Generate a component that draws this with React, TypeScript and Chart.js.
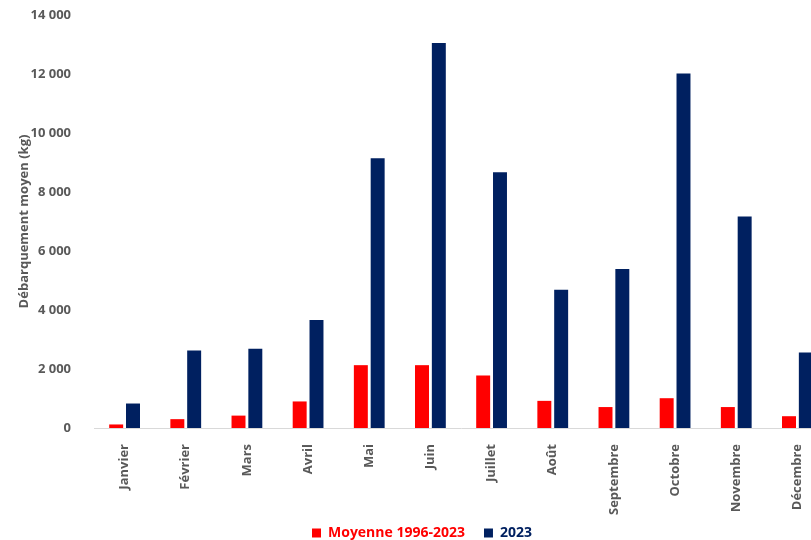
import React, { useEffect, useRef } from "react";
import { Chart, registerables } from "chart.js";

Chart.register(...registerables);

const months = ["Janvier", "Février", "Mars", "Avril", "Mai", "Juin", "Juillet", "Août", "Septembre", "Octobre", "Novembre", "Décembre"];
const moyenne = [120, 300, 420, 900, 2130, 2130, 1780, 920, 710, 1010, 710, 400];
const annee2023 = [830, 2630, 2690, 3660, 9140, 13050, 8670, 4690, 5390, 12020, 7170, 2560];
const seriesNames = ["Moyenne 1996-2023", "2023"];
const yTicks = [0, 2000, 4000, 6000, 8000, 10000, 12000, 14000];

const RED = "#FF0000";
const NAVY = "#002060";
const GRAY = "#595959";

function fmt(v: number) {
  return String(v).replace(/\B(?=(\d{3})+(?!\d))/g, " ");
}

const extendLabelArea = {
  id: "extendLabelArea",
  afterLayout(chart: any) {
    const x = chart.scales.x;
    if (x) x.bottom = x.bottom + 20;
  },
};

export default function App() {
  const ref = useRef<HTMLCanvasElement | null>(null);
  useEffect(() => {
    if (!ref.current) return;
    const font = { family: "'Open Sans'", size: 13, weight: "bold" as const };
    const legendFont = { family: "'Open Sans'", size: 14, weight: "bold" as const };
    const chart = new Chart(ref.current, {
      type: "bar",
      data: {
        labels: months,
        datasets: [
          { label: seriesNames[0], data: moyenne, backgroundColor: RED, categoryPercentage: 0.55, barPercentage: 0.83 },
          { label: seriesNames[1], data: annee2023, backgroundColor: NAVY, categoryPercentage: 0.55, barPercentage: 0.83 },
        ],
      },
      plugins: [extendLabelArea],
      options: {
        animation: false,
        responsive: false,
        maintainAspectRatio: false,
        layout: { padding: { left: 16, right: 28, top: 15, bottom: 0 } },
        plugins: {
          tooltip: { enabled: false },
          legend: {
            position: "bottom",
            labels: {
              boxWidth: 9,
              boxHeight: 9,
              padding: 19,
              font: legendFont,
              generateLabels: (c: any) =>
                c.data.datasets.map((ds: any, i: number) => ({
                  text: ds.label,
                  fillStyle: ds.backgroundColor,
                  strokeStyle: ds.backgroundColor,
                  lineWidth: 0,
                  fontColor: ds.backgroundColor,
                  hidden: false,
                  datasetIndex: i,
                })),
            },
          },
        },
        scales: {
          x: {
            grid: { display: false },
            border: { display: true, color: "#d9d9d9", width: 1 },
            ticks: { color: GRAY, font, minRotation: 90, maxRotation: 90, padding: 8, autoSkip: false },
            afterFit: (s: any) => { s.height = 79; s.paddingLeft = 0; s.paddingRight = 0; },
          },
          y: {
            min: 0,
            max: 14000,
            afterBuildTicks: (s: any) => { s.ticks = yTicks.map((v) => ({ value: v })); },
            grid: { display: false },
            border: { display: false },
            ticks: { color: GRAY, font, padding: 15, callback: (v: any) => fmt(Number(v)) },
            title: { display: true, text: "Débarquement moyen (kg)", color: GRAY, font, padding: { top: 0, bottom: 0 } },
            afterFit: (s: any) => { s.width = 78; s.paddingTop = 0; s.paddingBottom = 0; },
          },
        },
      },
    });
    return () => chart.destroy();
  }, []);
  return (
    <div style={{ position: "fixed", left: 0, top: 0, width: 811, height: 540, overflow: "hidden", background: "#fff" }}>
      <canvas ref={ref} width={856} height={550} style={{ display: "block" }} />
    </div>
  );
}
